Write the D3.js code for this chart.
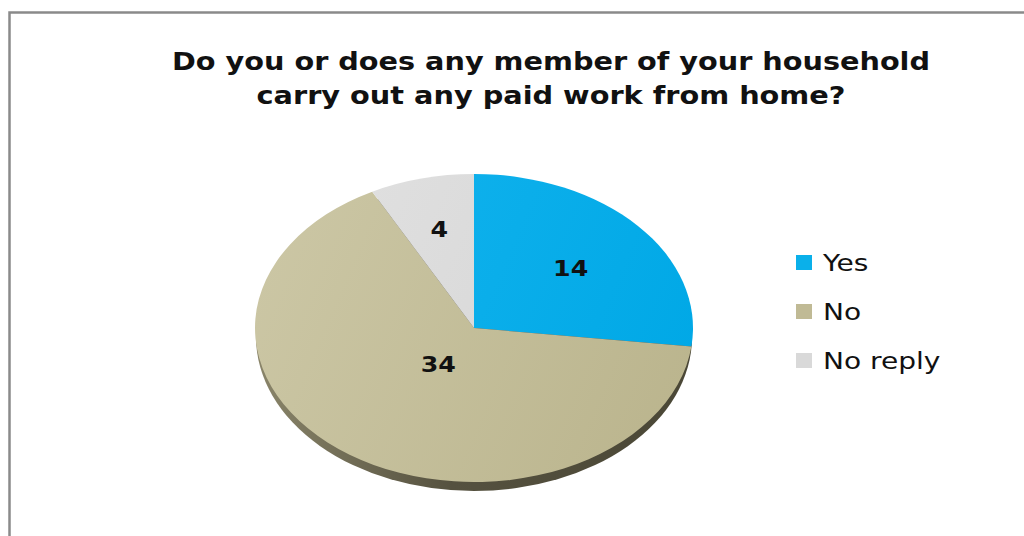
<!DOCTYPE html>
<html>
<head>
<meta charset="utf-8">
<script src="https://cdn.jsdelivr.net/npm/d3@7"></script>
<style>
  html, body { margin: 0; padding: 0; background: #fff; }
  svg { display: block; }
</style>
</head>
<body>
<svg id="chart" width="1024" height="536"></svg>
<script>
// Survey answers
const categories = ["Yes", "No", "No reply"];
const counts = [14, 34, 4];
const titleLines = [
  "Do you or does any member of your household",
  "carry out any paid work from home?"
];

const W = 1024, H = 536;
const svg = d3.select("#chart");

// Chart frame (top and left edges)
svg.append("path")
  .attr("d", "M9.5,536 L9.5,12.5 L1024,12.5")
  .attr("fill", "none")
  .attr("stroke", "#8a8a8a")
  .attr("stroke-width", 2.5);

// Title
const title = svg.append("g").attr("font-family", "'DejaVu Sans', sans-serif")
  .attr("font-weight", 700).attr("font-size", 24).attr("fill", "#111");
const titleWidths = [758, 589];
title.selectAll("text").data(titleLines).join("text")
  .attr("x", 551)
  .attr("y", (d, i) => 70 + i * 34)
  .attr("text-anchor", "middle")
  .attr("textLength", (d, i) => titleWidths[i])
  .attr("lengthAdjust", "spacingAndGlyphs")
  .text(d => d);

// Slice colours: light edge, dark edge
const shades = d3.scaleOrdinal().domain(categories).range([
  ["#14b4ee", "#00a8e6"],
  ["#cbc6a4", "#bbb58e"],
  ["#e1e1e1", "#d4d4d4"]
]);
const swatch = d3.scaleOrdinal().domain(categories).range(["#0ab0ea", "#c0ba95", "#d9d9d9"]);

// Pie geometry: circle of radius rx squashed vertically
const cx = 474, cy = 328, rx = 219, ry = 154, depth = 9;
const squash = ry / rx;

const defs = svg.append("defs");
categories.forEach((c, i) => {
  const g = defs.append("linearGradient")
    .attr("id", "grad" + i)
    .attr("gradientUnits", "userSpaceOnUse")
    .attr("x1", -rx).attr("y1", -rx * 0.3).attr("x2", rx).attr("y2", rx * 0.3);
  g.append("stop").attr("offset", "0%").attr("stop-color", shades(c)[0]);
  g.append("stop").attr("offset", "100%").attr("stop-color", shades(c)[1]);
});
const side = defs.append("linearGradient").attr("id", "side")
  .attr("gradientUnits", "userSpaceOnUse")
  .attr("x1", cx - rx).attr("y1", 0).attr("x2", cx + rx).attr("y2", 0);
side.append("stop").attr("offset", "0%").attr("stop-color", "#8a856a");
side.append("stop").attr("offset", "45%").attr("stop-color", "#55513f");
side.append("stop").attr("offset", "100%").attr("stop-color", "#4a4736");

const pie = d3.pie().sort(null).value(d => d);
const arcs = pie(counts);
const arc = d3.arc().innerRadius(0).outerRadius(rx);

// Label anchor: area centroid of each sector, squashed like the face
function labelPos(d) {
  const half = (d.endAngle - d.startAngle) / 2;
  const mid = d.startAngle + half;
  const r = (2 / 3) * rx * Math.sin(half) / half;
  return [cx + r * Math.sin(mid), cy - r * Math.cos(mid) * squash];
}

// Thin rim below the top face
svg.append("ellipse")
  .attr("cx", cx).attr("cy", cy + depth)
  .attr("rx", rx - 1).attr("ry", ry)
  .attr("fill", "url(#side)")
  .style("filter", "blur(0.6px)");

// Top face
const face = svg.append("g")
  .attr("transform", `translate(${cx},${cy}) scale(1,${squash})`);
face.selectAll("path").data(arcs).join("path")
  .attr("d", arc)
  .attr("fill", (d, i) => `url(#grad${i})`);

// Value labels
svg.append("g")
  .attr("font-family", "'DejaVu Sans', sans-serif")
  .attr("font-weight", 700).attr("font-size", 22).attr("fill", "#111")
  .selectAll("text").data(arcs).join("text")
  .attr("transform", d => `translate(${labelPos(d)}) scale(1.15,1)`)
  .attr("dy", "0.36em")
  .attr("text-anchor", "middle")
  .text(d => d.data);

// Legend
const legendY = d3.scalePoint().domain(categories).range([263, 361]);
const legend = svg.append("g");
const rows = legend.selectAll("g").data(categories).join("g")
  .attr("transform", d => `translate(796,${legendY(d)})`);
rows.append("rect")
  .attr("x", 0).attr("y", -8).attr("width", 16).attr("height", 15)
  .attr("fill", d => swatch(d));
rows.append("text")
  .attr("transform", "translate(27,8) scale(1.22,1)")
  .attr("font-family", "'DejaVu Sans', sans-serif")
  .attr("font-size", 23).attr("fill", "#111")
  .text(d => d);
</script>
</body>
</html>
